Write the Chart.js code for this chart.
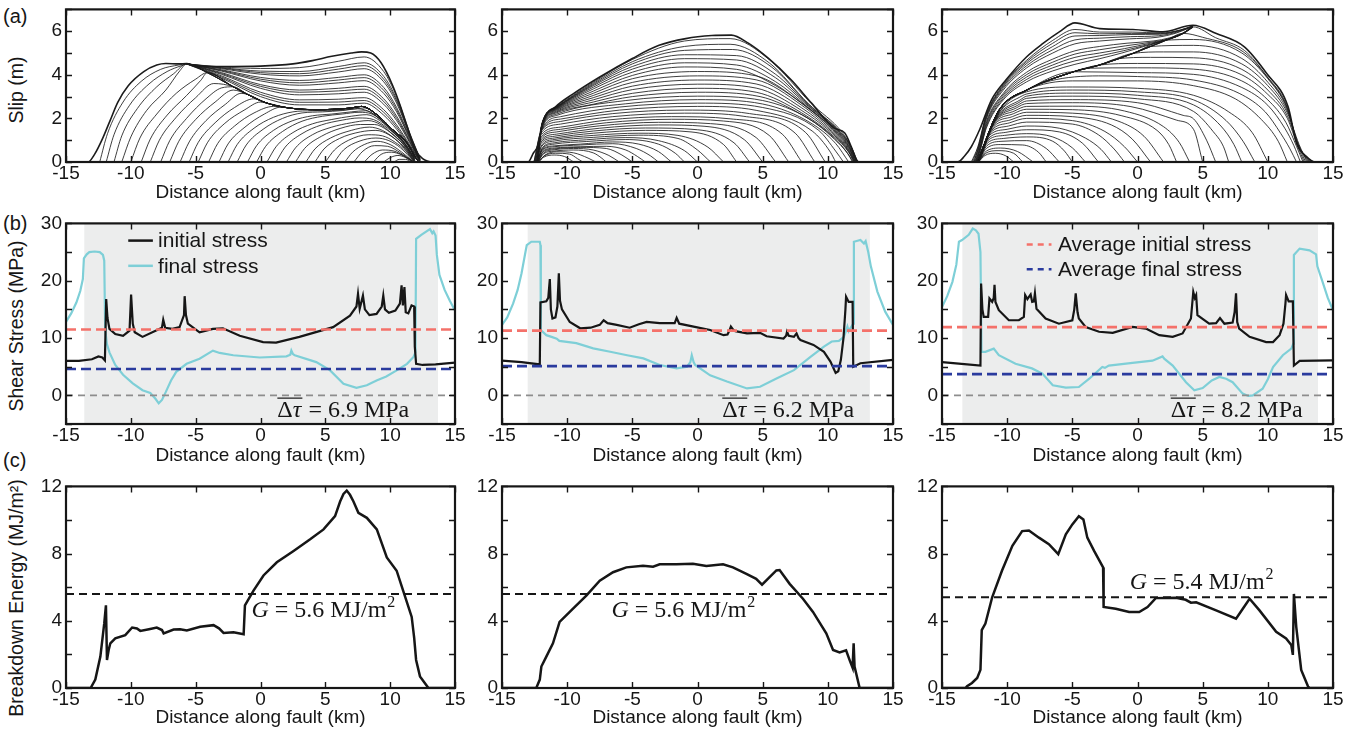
<!DOCTYPE html>
<html>
<head>
<meta charset="utf-8">
<script src="https://cdn.jsdelivr.net/npm/chart.js@4.4.1/dist/chart.umd.min.js"></script>
<style>
  body { margin: 0; background: #fff; width: 1359px; height: 734px; overflow: hidden; position: relative; font-family: "Liberation Sans", Arial, sans-serif; color: #161616; }
  canvas { position: absolute; }
  .tag { position: absolute; left: 3px; font-size: 20px; line-height: 1; }
  .ytitle { position: absolute; left: 17px; font-size: 19.5px; line-height: 1; white-space: nowrap;
            transform: translate(-50%, -50%) rotate(-90deg); }
</style>
</head>
<body>
<div class="tag" style="top:6px">(a)</div>
<div class="tag" style="top:213px">(b)</div>
<div class="tag" style="top:450px">(c)</div>
<div class="ytitle" style="top:90px">Slip (m)</div>
<div class="ytitle" style="top:326px">Shear Stress (MPa)</div>
<div class="ytitle" style="top:598px">Breakdown Energy (MJ/m²)</div>
<script>
// ---------- slip contours, left model ----------
const slipEarlyL = [
  [[10.3,0],[10.7,0.12],[11.2,0.12],[11.6,0]],
  [[9.5,0],[10,0.2],[10.6,0.3],[11.2,0.2],[11.7,0]],
  [[8.7,0],[9.3,0.35],[10.1,0.45],[10.9,0.32],[11.8,0]],
  [[8,0],[8.6,0.35],[9.4,0.55],[10.3,0.5],[11,0.3],[11.8,0]],
  [[7.2,0],[7.9,0.5],[8.8,0.75],[9.8,0.72],[10.8,0.42],[11.8,0]],
  [[6.5,0],[7.1,0.45],[8,0.8],[9,0.95],[10,0.8],[10.9,0.45],[11.8,0]],
  [[5.7,0],[6.4,0.55],[7.6,0.95],[8.9,1.1],[9.9,0.98],[10.8,0.65],[11.85,0]],
  [[5,0],[5.7,0.55],[6.8,1.0],[8.3,1.25],[9.4,1.2],[10.4,0.9],[11.2,0.5],[11.85,0]],
  [[4.2,0],[4.9,0.6],[6.1,1.08],[7.7,1.38],[8.9,1.45],[9.9,1.25],[10.8,0.82],[11.9,0]],
  [[3.5,0],[4.2,0.6],[5.4,1.1],[7,1.45],[8.4,1.6],[9.4,1.45],[10.4,1.05],[11.2,0.6],[11.9,0]],
  [[2.7,0],[3.4,0.62],[4.7,1.18],[6.2,1.55],[7.7,1.72],[8.8,1.72],[9.8,1.45],[10.8,0.95],[11.9,0.02]],
  [[2,0],[2.7,0.65],[4,1.25],[5.5,1.6],[7,1.8],[8.3,1.9],[9.3,1.7],[10.3,1.2],[11.2,0.7],[11.9,0.05]],
  [[1.2,0],[1.9,0.68],[3.2,1.3],[4.7,1.7],[6.3,1.92],[7.6,2.02],[8.7,1.95],[9.8,1.55],[10.8,1.02],[11.9,0.08]],
  [[0.5,0],[1.2,0.7],[2.5,1.35],[4,1.75],[5.5,1.95],[7,2.1],[8.2,2.17],[9.2,1.9],[10.3,1.33],[11.2,0.78],[11.9,0.1]],
  [[-0.3,0],[0.4,0.72],[1.7,1.4],[3.2,1.87],[4.8,2.1],[6.3,2.2],[7.6,2.28],[8.6,2.2],[9.7,1.72],[10.8,1.08],[11.9,0.12]],
  [[-1,0],[-0.3,0.75],[1,1.45],[2.5,1.9],[4,2.12],[5.5,2.2],[7,2.3],[8.1,2.35],[9.1,2.02],[10.2,1.4],[11.2,0.82],[11.9,0.15]],
  [[-1.8,0],[-1.1,0.78],[0.2,1.5],[1.7,2.0],[3.2,2.25],[4.8,2.3],[6.3,2.36],[7.5,2.44],[8.5,2.28],[9.6,1.78],[10.8,1.1],[11.9,0.18]],
  [[-2.5,0],[-1.8,0.8],[-0.5,1.55],[1,2.05],[2.5,2.3],[4,2.35],[5.5,2.36],[7,2.42],[8,2.48],[9.05,2.12],[10.2,1.45],[11.25,0.85],[11.9,0.2]]
];
// strip where slip locked in; later contours run into it
const healL = [[-5.7,4.5],[-4.1,4.1],[-2.1,3.45],[-1,3.1],[0.5,2.7],[2.3,2.47],[4.3,2.4],[6.9,2.47],[7.8,2.55],[9,2.16],[10.2,1.48],[11.3,0.87],[11.9,0.26],[12.2,0]];
const slipJoinL = [
  [[-3.2,0],[-2.5,0.83],[-1.2,1.6],[0.3,2.2],[1.6,2.52],[2.3,2.47]],
  [[-4,0],[-3.3,0.85],[-2,1.65],[-0.5,2.25],[1,2.55],[2.3,2.47]],
  [[-4.8,0],[-4.1,0.88],[-2.8,1.75],[-1.2,2.4],[0,2.75],[0.5,2.7]],
  [[-5.5,0],[-4.8,0.9],[-3.5,1.8],[-2,2.5],[-0.5,2.9],[0.5,2.7]],
  [[-6.2,0],[-5.5,0.92],[-4.2,1.9],[-2.7,2.65],[-1.5,3.15],[-1,3.1]],
  [[-7,0],[-6.3,0.95],[-5,1.95],[-3.5,2.75],[-2.1,3.3],[-1,3.1]],
  [[-7.7,0],[-7,0.98],[-5.7,2.0],[-4.2,2.9],[-3,3.4],[-2.1,3.45]],
  [[-8.5,0],[-7.8,1.0],[-6.5,2.05],[-5,2.95],[-3.6,3.6],[-2.1,3.45]],
  [[-9.2,0],[-8.5,1.05],[-7.2,2.15],[-5.7,3.05],[-4.6,3.75],[-4.1,4.1]],
  [[-10,0],[-9.3,1.1],[-8,2.2],[-6.5,3.15],[-5,3.8],[-4.1,4.1]],
  [[-10.7,0],[-10,1.15],[-8.8,2.35],[-7.3,3.3],[-6.2,4.2],[-5.7,4.5]],
  [[-11.3,0],[-10.7,1.2],[-9.5,2.45],[-8,3.45],[-6.7,4.05],[-5.7,4.5]],
  [[-11.9,0],[-11.3,1.25],[-10.1,2.6],[-8.6,3.58],[-7.2,4.15],[-6.1,4.42],[-5.7,4.5]],
  [[-12.4,0],[-11.8,1.3],[-10.6,2.75],[-9.2,3.7],[-7.7,4.25],[-6.3,4.45],[-5.7,4.5]]
];
const lateXL = [-5.7, -3, 0, 3, 6, 8, 9.5, 10.5, 11.5, 12.3];
const slipLateL = [
  [4.5, 3.85, 3.0, 2.62, 2.62, 2.7, 2.15, 1.5, 0.7, 0],
  [4.5, 3.9, 3.1, 2.74, 2.75, 2.82, 2.28, 1.6, 0.75, 0.02],
  [4.5, 3.95, 3.2, 2.85, 2.88, 2.95, 2.4, 1.7, 0.8, 0.05],
  [4.5, 4.02, 3.38, 3.08, 3.13, 3.2, 2.65, 1.9, 0.9, 0.05],
  [4.5, 4.06, 3.47, 3.2, 3.26, 3.34, 2.78, 2.0, 0.95, 0.06],
  [4.5, 4.1, 3.55, 3.3, 3.38, 3.47, 2.9, 2.1, 1.0, 0.08],
  [4.5, 4.17, 3.72, 3.52, 3.63, 3.73, 3.15, 2.3, 1.08, 0.1],
  [4.5, 4.2, 3.8, 3.63, 3.76, 3.87, 3.29, 2.4, 1.12, 0.1],
  [4.5, 4.23, 3.88, 3.74, 3.88, 4.0, 3.42, 2.5, 1.17, 0.1],
  [4.5, 4.28, 4.03, 3.95, 4.13, 4.28, 3.68, 2.7, 1.24, 0.12],
  [4.5, 4.31, 4.1, 4.05, 4.26, 4.42, 3.8, 2.8, 1.27, 0.14],
  [4.5, 4.33, 4.17, 4.15, 4.38, 4.55, 3.93, 2.88, 1.3, 0.15],
  [4.5, 4.36, 4.29, 4.33, 4.62, 4.82, 4.15, 3.0, 1.35, 0.17]
];
const slipFinalL = [[-15,0],[-13.3,0],[-12.8,0.35],[-12.2,1.05],[-11.6,1.9],[-11,2.75],[-10.2,3.5],[-9,4.15],[-8,4.45],[-7.3,4.52],[-6.3,4.5],[-5.7,4.52],[-5,4.4],[-3,4.38],[0,4.4],[2.5,4.5],[4,4.65],[5.5,4.85],[7,5.0],[7.8,5.05],[8.5,5.0],[9.3,4.55],[10.2,3.5],[10.8,2.55],[11.3,1.65],[11.9,0.6],[12.5,0.15],[13.3,0],[15,0]];

// ---------- slip contours, middle model ----------
const slipMid = [
  [[-12.2,0],[-11.8,0.22],[-11,0.32],[-10.2,0.25],[-9.5,0]],
  [[-12.2,0],[-11.75,0.28],[-10.9,0.4],[-9.8,0.36],[-9.2,0.15],[-8.8,0]],
  [[-12.2,0],[-11.7,0.32],[-10.8,0.47],[-9.5,0.42],[-8.4,0.18],[-7.8,0]],
  [[-12.25,0],[-11.8,0.38],[-11,0.5],[-9.5,0.55],[-8,0.42],[-7.4,0.2],[-7,0]],
  [[-12.25,0],[-11.8,0.42],[-11,0.56],[-9.5,0.62],[-8,0.55],[-6.8,0.3],[-6,0]],
  [[-12.25,0],[-11.85,0.46],[-11,0.6],[-9,0.67],[-7,0.62],[-5.8,0.32],[-5,0]],
  [[-12.25,0],[-11.85,0.5],[-11,0.64],[-9,0.7],[-7,0.72],[-5.5,0.55],[-4.6,0.25],[-4,0]],
  [[-12.3,0],[-11.9,0.54],[-11,0.7],[-9,0.78],[-6.5,0.84],[-4.7,0.62],[-3.6,0.28],[-3,0]],
  [[-12.3,0],[-11.9,0.58],[-11,0.74],[-9,0.82],[-6.5,0.92],[-4.5,0.82],[-3,0.48],[-2,0]],
  [[-12.3,0],[-11.9,0.62],[-11,0.82],[-8.5,0.94],[-5.5,1.03],[-3,0.82],[-1.7,0.4],[-1,0]],
  [[-12.3,0],[-11.9,0.66],[-11,0.88],[-8.5,1.02],[-5.5,1.12],[-3,0.98],[-1,0.52],[0,0]],
  [[-12.35,0],[-11.95,0.72],[-11,0.96],[-8,1.13],[-4.5,1.23],[-1.5,1.08],[0,0.55],[1,0]],
  [[-12.35,0],[-11.95,0.78],[-11,1.03],[-8,1.22],[-4.5,1.32],[-1.5,1.22],[0.8,0.68],[2,0]],
  [[-12.4,0],[-12,0.85],[-11,1.1],[-8,1.32],[-4,1.45],[-0.5,1.38],[2,0.8],[3,0]],
  [[-12.4,0],[-12,0.92],[-11,1.18],[-8,1.42],[-4,1.56],[0,1.48],[2.8,0.88],[4,0]],
  [[-12.45,0],[-12,1.0],[-10.8,1.28],[-7.5,1.55],[-3,1.7],[0.5,1.64],[3.6,1.02],[5,0]],
  [[-12.45,0],[-12,1.08],[-10.8,1.38],[-7.5,1.66],[-3,1.82],[1,1.76],[4.5,1.12],[6,0]],
  [[-12.5,0],[-12,1.16],[-10.5,1.5],[-7,1.8],[-2,1.96],[2,1.88],[5.5,1.22],[7,0]],
  [[-12.5,0],[-12,1.25],[-10.5,1.6],[-7,1.92],[-2,2.08],[2.5,1.98],[6.5,1.28],[8,0]],
  [[-12.55,0],[-12,1.34],[-10.5,1.74],[-6.5,2.08],[-1,2.24],[3.5,2.1],[7.5,1.32],[9,0]],
  [[-12.55,0],[-12,1.42],[-10.5,1.86],[-6.5,2.22],[-1,2.38],[4,2.22],[8.3,1.35],[9.8,0]],
  [[-12.3,0],[-11.95,1.47],[-10.5,1.97],[-6,2.38],[0,2.55],[4.5,2.37],[8.8,1.42],[10.2,0.45],[10.6,0]],
  [[-12.3,0],[-11.95,1.5],[-10.5,2.08],[-6,2.52],[0,2.7],[5,2.5],[9.3,1.45],[10.6,0.5],[11.2,0]],
  [[-12.3,0],[-11.95,1.52],[-10.8,2.14],[-5.5,2.67],[0,2.86],[5,2.66],[8.8,1.75],[10.6,0.85],[11.6,0]],
  [[-12.3,0],[-11.95,1.55],[-10.8,2.2],[-5.5,2.82],[0,3.02],[5,2.82],[8.5,2.0],[10.5,1.05],[11.5,0.4],[11.9,0]],
  [[-12.3,0],[-11.95,1.58],[-10.8,2.26],[-8,2.65],[-5,3.0],[0,3.2],[4.8,3.0],[8.2,2.1],[10.5,1.1],[11.5,0.42],[11.95,0]],
  [[-12.3,0],[-11.95,1.6],[-10.8,2.3],[-8,2.75],[-5,3.15],[0,3.38],[4.5,3.2],[8,2.25],[10.5,1.15],[11.6,0.45],[12,0]],
  [[-12.3,0],[-11.95,1.63],[-10.8,2.34],[-8,2.85],[-5,3.32],[0,3.57],[4.5,3.39],[8,2.36],[10.55,1.19],[11.6,0.48],[12.02,0]],
  [[-12.3,0],[-11.95,1.65],[-10.8,2.38],[-8,2.95],[-5,3.48],[0,3.76],[4.5,3.58],[8,2.48],[10.6,1.22],[11.6,0.52],[12.05,0]],
  [[-12.3,0],[-11.94,1.68],[-10.8,2.41],[-8,3.05],[-5,3.65],[0,3.95],[4.5,3.77],[8,2.6],[10.65,1.25],[11.62,0.55],[12.08,0]],
  [[-12.3,0],[-11.93,1.7],[-10.8,2.44],[-8,3.15],[-5,3.82],[0,4.15],[4.5,3.95],[8,2.7],[10.7,1.28],[11.65,0.58],[12.1,0]],
  [[-12.3,0],[-11.92,1.72],[-10.8,2.46],[-8,3.25],[-5,3.97],[-1,4.36],[3,4.25],[6,3.5],[8.3,2.55],[10.75,1.3],[11.68,0.6],[12.12,0]],
  [[-12.3,0],[-11.92,1.74],[-10.8,2.48],[-8,3.35],[-5,4.12],[-1,4.55],[3,4.45],[6,3.68],[8.5,2.5],[10.8,1.32],[11.7,0.62],[12.15,0]],
  [[-12.3,0],[-11.91,1.76],[-10.8,2.5],[-8,3.43],[-5,4.26],[-1,4.74],[3,4.68],[6,3.86],[8.5,2.56],[10.85,1.34],[11.72,0.64],[12.18,0]],
  [[-12.3,0],[-11.91,1.77],[-10.8,2.51],[-8,3.5],[-5,4.38],[-1,4.92],[3,4.88],[6,4.02],[8.5,2.6],[10.9,1.35],[11.75,0.66],[12.2,0]],
  [[-12.3,0],[-11.9,1.78],[-10.8,2.52],[-8,3.55],[-5,4.5],[-1,5.12],[2.7,5.16],[5.7,4.35],[8.5,2.65],[10.95,1.36],[11.78,0.67],[12.22,0]],
  [[-12.3,0],[-11.9,1.79],[-10.8,2.53],[-8,3.6],[-5,4.6],[-1,5.3],[2.5,5.4],[5.5,4.55],[8.5,2.68],[11,1.36],[11.8,0.68],[12.25,0]],
  [[-12.3,0],[-11.9,1.8],[-10.8,2.55],[-8,3.65],[-5,4.7],[-1,5.55],[2.5,5.66],[5.5,4.7],[8.7,2.7],[11.1,1.36],[11.8,0.69],[12.3,0]]
];
const slipFinalM = [[-15,0],[-13,0],[-12.6,0.4],[-12.25,0.75],[-11.9,1.8],[-10.85,2.55],[-9.6,3.1],[-7.5,3.9],[-5,4.75],[-2.95,5.35],[-0.9,5.66],[1.1,5.8],[2.6,5.82],[3.9,5.45],[5.45,4.75],[7.2,3.76],[8.75,2.7],[10.5,1.55],[11.3,1.33],[11.8,0.7],[12.2,0.1],[12.4,0],[15,0]];

// ---------- slip contours, right model ----------
const slipEarlyR = [
  [[-12.2,0],[-11.7,0.3],[-10.9,0.4],[-10.1,0.28],[-9.5,0]],
  [[-12.2,0],[-11.65,0.4],[-10.7,0.52],[-9.5,0.4],[-8.8,0]],
  [[-12.2,0],[-11.6,0.5],[-10.5,0.64],[-9.2,0.48],[-8,0]],
  [[-12.2,0],[-11.6,0.62],[-10.5,0.8],[-8.8,0.78],[-7.6,0.45],[-7,0]],
  [[-12.2,0],[-11.55,0.75],[-10.4,0.95],[-8.5,0.98],[-7,0.62],[-6,0]],
  [[-12.2,0],[-11.5,0.88],[-10.3,1.08],[-8.5,1.15],[-6.5,0.95],[-5.6,0.5],[-5,0]],
  [[-12.2,0],[-11.45,1.0],[-10.2,1.22],[-8.5,1.3],[-6.5,1.15],[-5,0.65],[-4,0]],
  [[-12.2,0],[-11.4,1.1],[-10.1,1.36],[-8.5,1.48],[-6,1.38],[-4.2,0.85],[-3,0]],
  [[-12.2,0],[-11.35,1.22],[-10,1.5],[-8.5,1.65],[-6,1.55],[-4,1.1],[-2.8,0.58],[-2,0]],
  [[-12.2,0],[-11.3,1.32],[-9.9,1.65],[-8.5,1.83],[-5,1.74],[-3,1.25],[-1.8,0.6],[-1,0]],
  [[-12.2,0],[-11.25,1.4],[-9.8,1.8],[-8.5,2.0],[-5,1.9],[-2.5,1.4],[-1,0.7],[0,0]],
  [[-12.2,0],[-11.2,1.5],[-9.7,1.94],[-8.5,2.14],[-5,2.08],[-2,1.7],[-0.4,1.05],[1,0]],
  [[-12.2,0],[-11.15,1.6],[-9.6,2.08],[-8.5,2.28],[-5,2.24],[-1.5,1.88],[0.5,1.18],[2,0]],
  [[-12.2,0],[-11.1,1.68],[-9.5,2.22],[-8.5,2.42],[-5,2.4],[-1.2,2.12],[1.5,1.45],[2.4,0.8],[3,0]],
  [[-12.2,0],[-11.05,1.76],[-9.4,2.35],[-8.5,2.55],[-5,2.56],[-1,2.34],[2,1.62],[3.2,0.9],[4,0]],
  [[-12.2,0],[-11,1.82],[-9.3,2.48],[-8.5,2.68],[-5,2.72],[-0.5,2.54],[3,1.92],[4.3,1.5],[5,0]],
  [[-12.2,0],[-10.95,1.88],[-9.2,2.6],[-8.5,2.8],[-5,2.86],[0,2.72],[3.5,2.14],[4.3,1.98],[5.3,1.0],[6,0]],
  [[-12.2,0],[-10.9,1.95],[-9.1,2.73],[-8.5,2.92],[-5,3.02],[0,2.9],[4.3,2.32],[5.8,1.4],[6.6,0.7],[7,0]],
  [[-12.2,0],[-10.85,2.02],[-9,2.85],[-8.5,3.02],[-5,3.16],[0,3.06],[4.3,2.62],[6.4,1.65],[7.4,0.8],[8,0]],
  [[-12.2,0],[-10.8,2.1],[-8.8,3.05],[-8.5,3.12],[-5,3.3],[0,3.22],[4.3,2.85],[6.8,1.9],[8.1,0.95],[9,0]],
  [[-12.2,0],[-10.75,2.16],[-8.5,3.22],[-5,3.44],[0,3.38],[4.3,3.06],[7,2.3],[8.8,1.35],[10,0]]
];
const healR = [[-12.3,0],[-12.1,0.3],[-10.6,2.4],[-8.5,3.3],[-4.9,4.14],[-2.9,4.45],[-0.35,4.98],[2.2,5.59],[3.5,5.9],[4.25,6.2]];
const slipJoinR = [
  [[-8.5,3.3],[-5,3.72],[0,3.72],[4.3,3.5],[7.5,2.9],[9.5,1.95],[10.8,0.95],[11.5,0]],
  [[-6.7,3.72],[-3,3.95],[0,3.92],[4.3,3.76],[7.8,3.15],[9.8,2.3],[11,1.3],[11.7,0.6],[12.2,0]],
  [[-4.9,4.14],[0,4.1],[4.3,4.02],[8,3.42],[10,2.6],[11.3,1.55],[12,0.75],[12.5,0]],
  [[-3.9,4.3],[0,4.32],[4.3,4.26],[8,3.72],[10,2.85],[11.4,1.8],[12.2,0.72],[12.7,0]],
  [[-2.9,4.45],[0,4.52],[4.3,4.5],[8,4.0],[10,3.1],[11.5,2.0],[12.3,0.7],[12.8,0]],
  [[-1.6,4.73],[1,4.8],[4.3,4.78],[8,4.25],[10,3.3],[11.5,2.12],[12.35,0.75],[12.9,0]],
  [[-0.35,4.98],[2,5.05],[4.3,5.05],[8,4.5],[10,3.5],[11.5,2.25],[12.4,0.8],[13,0]],
  [[1,5.3],[4.3,5.35],[8,4.75],[10,3.66],[11.5,2.34],[12.35,0.8],[13.1,0]],
  [[2.2,5.59],[4.3,5.62],[8,5.0],[10,3.82],[11.5,2.42],[12.3,0.8],[13.2,0]],
  [[3.5,5.9],[5,5.72],[8.1,5.06],[9.95,3.9],[11.5,2.46],[12.3,0.82],[13.3,0]],
  [[4.25,6.2],[6,5.7],[8.2,5.12],[9.9,3.95],[11.5,2.5],[12.25,0.8],[12.95,0.24],[13.5,0]]
];
const slipUpperR = [
  [[-12.35,0],[-12.1,0.45],[-11.6,1.55],[-10.3,2.85],[-8.5,3.68],[-6.5,4.18],[-4.8,4.48],[-2.9,4.74],[-1.2,5.0],[0.5,5.3],[2.2,5.59],[3.5,5.9],[4.25,6.2]],
  [[-12.38,0],[-12.11,0.48],[-11.6,1.62],[-10.3,2.92],[-8.5,3.79],[-6.5,4.32],[-4.8,4.64],[-2.9,4.87],[-1.1,5.1],[0.8,5.38],[2.2,5.6],[3.5,5.9],[4.25,6.2]],
  [[-12.4,0],[-12.12,0.5],[-11.6,1.7],[-10.3,3.0],[-8.5,3.9],[-6.5,4.45],[-4.8,4.8],[-2.9,5.0],[-1,5.2],[1,5.45],[2.2,5.6],[3.5,5.9],[4.25,6.2]],
  [[-12.43,0],[-12.14,0.53],[-11.6,1.78],[-10.3,3.08],[-8.5,4.01],[-6.5,4.58],[-4.8,4.95],[-2.9,5.15],[-0.9,5.33],[1.1,5.5],[2.4,5.65],[3.5,5.91],[4.25,6.2]],
  [[-12.45,0],[-12.15,0.55],[-11.6,1.85],[-10.3,3.15],[-8.5,4.12],[-6.5,4.72],[-4.8,5.1],[-2.9,5.3],[-0.8,5.45],[1.2,5.55],[2.5,5.7],[3.5,5.92],[4.25,6.2]],
  [[-12.5,0],[-12.18,0.6],[-11.6,1.98],[-10.3,3.3],[-8.5,4.32],[-6.5,5.0],[-4.8,5.42],[-2.9,5.55],[-0.6,5.65],[1.5,5.72],[3,5.92],[4.25,6.22]],
  [[-12.55,0],[-12.2,0.62],[-11.6,2.03],[-10.3,3.38],[-8.5,4.42],[-6.5,5.15],[-4.8,5.6],[-2.9,5.68],[-0.55,5.75],[1.6,5.79],[3.1,5.97],[4.25,6.22]],
  [[-12.6,0],[-12.2,0.65],[-11.6,2.08],[-10.3,3.45],[-8.5,4.52],[-6.5,5.3],[-4.8,5.78],[-2.9,5.8],[-0.5,5.85],[1.7,5.86],[3.2,6.02],[4.25,6.23]],
  [[-12.68,0],[-12.23,0.68],[-11.6,2.13],[-10.3,3.5],[-8.5,4.6],[-6.5,5.45],[-4.8,5.93],[-2.9,5.88],[-0.45,5.9],[1.75,5.89],[3.25,6.04],[4.25,6.24]],
  [[-12.75,0],[-12.25,0.7],[-11.6,2.18],[-10.3,3.55],[-8.5,4.67],[-6.5,5.58],[-4.8,6.08],[-2.9,5.96],[-0.4,5.96],[1.8,5.92],[3.3,6.06],[4.25,6.25]]
];
const slipFinalR = [[-15,0],[-13.8,0],[-13.3,0.25],[-12.75,0.7],[-12.1,1.5],[-11.2,2.85],[-10.1,3.76],[-8.5,4.83],[-7.25,5.44],[-6,5.97],[-4.8,6.38],[-2.9,6.12],[-0.35,6.08],[1.95,5.97],[4.25,6.27],[6.05,5.89],[8.2,5.28],[9.9,4.07],[11.55,2.54],[12.2,0.87],[12.95,0.26],[13.6,0],[15,0]];

// ---------- shear stress along the fault ----------
const initStressL = [[-15,6.0],[-14,6.0],[-13,6.3],[-12.5,6.8],[-12.2,6.6],[-12.0,6.1],[-11.9,16.8],[-11.8,13.5],[-11.65,11.6],[-11.2,10.7],[-10.6,10.4],[-10.1,11.3],[-9.98,17.6],[-9.85,12.5],[-9.7,11.0],[-9.1,10.2],[-8.05,11.3],[-7.6,11.8],[-7.5,13.2],[-7.35,11.8],[-6.8,11.6],[-6.24,11.9],[-5.9,14.0],[-5.85,17.3],[-5.75,14.0],[-5.6,12.5],[-4.7,11.0],[-3.67,11.6],[-2.9,11.7],[-1.6,10.4],[0.2,9.3],[1.2,9.2],[3.0,10.2],[5.6,11.9],[6.9,13.9],[7.4,15.5],[7.52,17.7],[7.65,15.1],[7.9,17.4],[8.05,15.0],[8.4,14.0],[8.95,14.2],[9.35,15.5],[9.47,17.4],[9.6,15.0],[9.9,14.4],[10.4,14.8],[10.75,16.0],[10.88,19.2],[10.98,15.7],[11.1,18.9],[11.2,14.5],[11.4,14.3],[11.65,15.7],[11.85,15.5],[11.9,8.5],[12.0,5.5],[12.5,5.3],[13.5,5.4],[15,5.7]];
const finalStressL = [[-15,12.8],[-14.6,14.3],[-14.2,16.2],[-13.9,18.2],[-13.7,20.3],[-13.62,23.9],[-13.4,24.6],[-13.2,25.0],[-12.8,25.1],[-12.4,25.0],[-12.15,24.5],[-12.05,23.5],[-11.98,11.6],[-11.85,9.0],[-11.65,7.5],[-11.2,5.3],[-10.6,3.6],[-9.85,2.1],[-9.1,0.9],[-8.5,0.4],[-8.1,-0.6],[-7.85,-1.4],[-7.6,-0.8],[-7.3,0.6],[-6.9,2.6],[-6.5,4.1],[-5.7,5.5],[-4.7,6.4],[-3.67,7.8],[-3.15,7.4],[-2.1,7.0],[-0.06,6.6],[2.0,6.8],[2.3,7.1],[2.38,7.8],[2.5,7.2],[2.64,7.0],[4.3,5.8],[5.35,4.4],[6.4,2.0],[7.4,1.3],[8.2,1.75],[8.95,2.6],[9.7,3.3],[10.5,4.35],[11.3,5.5],[11.8,6.7],[11.95,7.5],[12.0,27.3],[12.4,28.0],[13.07,29.0],[13.25,28.3],[13.35,28.6],[13.5,27.9],[13.6,24.5],[13.8,21.0],[14.2,18.4],[14.6,16.5],[15,14.8]];
const initStressM = [[-15,6.05],[-13.5,5.8],[-12.1,5.4],[-12.05,16.2],[-11.6,16.4],[-11.45,17.0],[-11.33,20.3],[-11.25,15.0],[-11.13,13.4],[-10.9,13.6],[-10.75,15.5],[-10.64,21.3],[-10.55,16.5],[-10.4,15.0],[-9.8,12.8],[-9.0,11.7],[-8.2,11.8],[-7.5,12.3],[-7.2,13.1],[-6.9,12.6],[-6.2,12.3],[-5.2,11.8],[-4.5,12.4],[-3.9,12.8],[-2.9,12.6],[-1.75,12.6],[-1.6,13.5],[-1.4,12.5],[-0.3,12.0],[0.97,11.4],[2.0,10.5],[2.3,10.6],[2.45,11.3],[2.56,12.0],[2.75,11.4],[2.9,11.2],[3.8,10.8],[4.8,10.9],[5.3,10.3],[6.6,9.9],[6.8,10.4],[6.87,11.1],[7.0,10.4],[7.4,10.2],[7.6,10.8],[7.75,10.0],[7.9,9.65],[8.9,8.8],[9.7,7.6],[10.2,5.9],[10.6,3.9],[10.8,4.2],[11.0,6.2],[11.2,10.0],[11.35,15.0],[11.4,17.2],[11.6,16.3],[11.9,16.3],[11.95,5.0],[12.5,5.6],[15,6.2]];
const finalStressM = [[-15,12.3],[-14.6,13.6],[-14.15,16.0],[-13.8,18.4],[-13.5,21.3],[-13.2,25.0],[-13.1,26.2],[-12.75,26.8],[-12.1,26.8],[-12.05,26.2],[-12.02,11.4],[-11.6,10.5],[-11.2,10.2],[-10.8,9.9],[-10.6,9.5],[-9.3,9.1],[-8.0,8.2],[-6.7,7.6],[-5.4,7.0],[-4.15,6.45],[-2.9,5.3],[-1.6,4.7],[-0.8,5.0],[-0.55,5.8],[-0.44,7.0],[-0.3,5.8],[-0.18,5.3],[0.97,3.5],[2.26,2.4],[3.8,1.2],[4.8,1.5],[6.1,3.0],[7.4,4.4],[8.67,6.7],[9.7,8.5],[10.3,9.4],[10.85,9.5],[11.23,10.2],[11.4,11.3],[11.5,12.0],[11.6,11.2],[11.75,11.8],[11.95,12.5],[12.0,26.8],[12.5,27.1],[12.77,26.5],[12.9,26.9],[13.1,25.0],[13.3,22.5],[13.8,18.1],[14.4,14.6],[15,12.3]];
const initStressR = [[-15,5.8],[-13.5,5.5],[-12.05,5.2],[-12.0,19.5],[-11.9,15.0],[-11.8,13.7],[-11.46,13.7],[-11.36,16.9],[-11.15,16.3],[-11.03,17.0],[-10.97,19.3],[-10.9,16.3],[-10.64,14.85],[-9.87,13.1],[-9.1,13.1],[-8.72,13.7],[-8.62,17.5],[-8.45,16.8],[-8.33,17.2],[-8.2,17.6],[-8.08,16.3],[-7.95,16.4],[-7.87,17.8],[-7.75,15.1],[-7.05,13.4],[-6.03,12.5],[-5.0,13.1],[-4.85,15.0],[-4.74,17.8],[-4.6,14.5],[-4.5,13.4],[-3.97,11.9],[-2.95,11.1],[-1.9,10.9],[-0.38,11.95],[0.64,11.65],[1.67,10.5],[2.7,10.2],[3.46,10.8],[4.1,13.4],[4.28,18.05],[4.4,17.0],[4.5,17.5],[4.6,14.0],[5.5,12.5],[6.03,12.6],[6.33,13.5],[6.67,12.5],[7.3,12.7],[7.45,14.5],[7.56,17.8],[7.65,12.8],[7.8,11.65],[8.6,10.2],[9.87,9.3],[10.4,9.3],[10.9,10.5],[11.2,12.5],[11.35,16.0],[11.4,17.5],[11.6,16.4],[11.92,16.4],[12.0,5.2],[12.44,6.0],[15,6.1]];
const finalStressR = [[-15,15.4],[-14.6,17.3],[-14.2,19.8],[-13.9,22.8],[-13.7,26.8],[-13.46,27.1],[-12.95,28.0],[-12.64,29.1],[-12.4,28.8],[-12.2,28.2],[-12.05,25.0],[-11.97,7.6],[-11.67,7.6],[-11.03,8.15],[-10.64,7.0],[-9.36,5.5],[-8.1,4.7],[-7.3,3.8],[-6.5,1.75],[-5.5,1.34],[-4.5,1.45],[-3.7,2.9],[-2.7,4.95],[-2.5,4.8],[-2.2,5.2],[-0.38,5.65],[1.15,6.05],[1.92,6.8],[2.05,6.4],[2.7,5.2],[3.72,2.3],[4.36,0.87],[5.0,1.28],[5.7,2.6],[6.28,3.2],[6.8,2.9],[7.3,2.3],[8.07,0.3],[8.5,-0.1],[8.85,0.0],[9.6,1.16],[10.0,2.8],[10.4,4.95],[11.15,7.0],[11.8,8.15],[11.95,9.0],[12.0,24.5],[12.44,25.6],[13.2,25.3],[13.7,24.6],[13.8,22.5],[14.2,19.8],[14.6,17.0],[15,14.85]];
const avgInitial = [11.5, 11.3, 11.9];
const avgFinal = [4.6, 5.1, 3.7];
const shadeFrom = [-13.6, -13.05, -13.45];
const shadeTo = [13.7, 13.23, 13.85];

// ---------- breakdown energy ----------
const energyL = [[-15,0],[-13.1,0],[-12.74,0.5],[-12.35,1.87],[-12.05,3.84],[-11.92,4.92],[-11.84,1.67],[-11.7,2.3],[-11.58,2.66],[-11.2,2.95],[-10.43,3.15],[-9.9,3.6],[-9.53,3.54],[-9.27,3.4],[-8.6,3.5],[-8.0,3.6],[-7.6,3.45],[-7.47,3.25],[-6.7,3.48],[-6.2,3.5],[-5.68,3.42],[-4.65,3.64],[-3.62,3.74],[-3.2,3.55],[-2.85,3.28],[-2.08,3.32],[-1.3,3.2],[-1.2,4.92],[-0.54,5.8],[0.23,6.7],[1.26,7.48],[2.55,8.16],[3.83,8.85],[4.86,9.44],[5.75,10.23],[6.14,11.1],[6.4,11.55],[6.65,11.75],[6.9,11.5],[7.17,11.1],[7.55,10.43],[8.2,10.13],[8.97,9.44],[9.74,7.77],[10.5,6.98],[11.0,5.8],[11.66,4.23],[11.85,3.0],[12.0,1.67],[12.3,0.69],[12.95,0],[15,0]];
const energyM = [[-15,0],[-12.37,0],[-12.1,0.5],[-11.98,1.28],[-11.6,1.87],[-11.09,2.66],[-10.58,3.93],[-9.55,4.72],[-8.53,5.5],[-7.5,6.39],[-6.48,6.89],[-5.46,7.18],[-4.18,7.28],[-3.41,7.22],[-2.9,7.36],[-1.62,7.36],[-0.35,7.4],[0.68,7.26],[1.96,7.36],[2.72,7.18],[3.75,6.79],[4.5,6.5],[4.95,6.15],[6.05,7.0],[6.3,7.02],[7.07,6.2],[8.09,5.31],[8.86,4.53],[9.88,3.25],[10.4,2.26],[10.9,2.12],[11.4,2.24],[11.7,1.6],[11.9,1.2],[11.98,2.66],[12.05,1.28],[12.44,0],[15,0]];
const energyR = [[-15,0],[-13.2,0],[-13.08,0.1],[-12.7,0.3],[-12.3,0.6],[-12.05,1.08],[-11.95,3.44],[-11.67,3.84],[-11.15,5.4],[-10.4,6.98],[-9.6,8.46],[-8.85,9.34],[-8.33,9.38],[-7.56,8.95],[-6.8,8.56],[-6.08,7.97],[-5.5,9.15],[-5.0,9.74],[-4.5,10.23],[-4.15,10.03],[-3.85,8.95],[-3.33,8.16],[-2.64,7.18],[-2.6,4.82],[-1.67,4.72],[-0.64,4.52],[0.13,4.52],[0.77,4.82],[1.4,5.35],[2.95,5.37],[3.7,5.25],[4.1,5.08],[4.5,5.1],[6.03,4.62],[7.56,4.13],[8.08,4.72],[8.6,5.31],[9.36,4.62],[10.64,3.34],[11.4,2.95],[11.8,2.56],[11.92,1.97],[12.0,5.6],[12.18,3.64],[12.56,1.08],[13.08,0.1],[13.2,0],[15,0]];
const avgEnergy = [5.6, 5.6, 5.4];

// ---------- helpers ----------
const INK = '#161616';
const CYAN = '#7ecfd7';
const RED = '#f4716a';
const BLUE = '#2a3b9e';
const SANS = '"Liberation Sans", Arial, sans-serif';
const SERIF = '"Liberation Serif", "Times New Roman", serif';

const pts = arr => arr.map(([x, y]) => ({x, y}));
const thenHeal = (rise, heal) => rise.concat(heal.filter(p => p[0] > rise[rise.length - 1][0]));
const healThen = (heal, tail) => heal.filter(p => p[0] < tail[0][0]).concat(tail);
const onGrid = (xs, ys) => xs.map((x, i) => [x, ys[i]]);

function curve(arr, color, width, extra) {
  return Object.assign({
    data: pts(arr), showLine: true, borderColor: color, borderWidth: width,
    pointRadius: 0, fill: false, tension: 0
  }, extra || {});
}
const contour = (arr, w) => curve(arr, '#1c1c1c', w || 0.85, {cubicInterpolationMode: 'monotone'});
const hline = (v, color, width, dash, order) =>
  curve([[-15, v], [15, v]], color, width, {borderDash: dash, order: order});

// inward tick marks and closed box
const frame = {
  id: 'frame',
  afterDatasetsDraw(chart) {
    const {ctx, chartArea: a, scales: {x, y}} = chart;
    ctx.save();
    ctx.strokeStyle = INK;
    ctx.lineWidth = 1.4;
    ctx.beginPath();
    x.ticks.forEach(t => {
      const p = Math.round(x.getPixelForValue(t.value)) + 0.5;
      ctx.moveTo(p, a.bottom); ctx.lineTo(p, a.bottom - 6);
      ctx.moveTo(p, a.top); ctx.lineTo(p, a.top + 6);
    });
    y.ticks.forEach(t => {
      const p = Math.round(y.getPixelForValue(t.value)) + 0.5;
      ctx.moveTo(a.left, p); ctx.lineTo(a.left + 6, p);
      ctx.moveTo(a.right, p); ctx.lineTo(a.right - 6, p);
    });
    ctx.stroke();
    ctx.lineWidth = 2.2;
    ctx.strokeRect(a.left, a.top, a.width, a.height);
    ctx.restore();
  }
};

// in-plot keys and the math labels
const notes = {
  id: 'notes',
  afterDatasetsDraw(chart, args, opts) {
    const {ctx, scales: {x, y}} = chart;
    ctx.save();
    ctx.fillStyle = INK;
    ctx.textBaseline = 'alphabetic';
    if (opts.drop) {
      const d = opts.drop;
      let px = x.getPixelForValue(d.x);
      const py = y.getPixelForValue(d.y);
      const x0 = px;
      ctx.font = '24px ' + SERIF;
      ctx.fillText('\u0394', px, py);
      px += ctx.measureText('\u0394').width;
      ctx.font = 'italic 24px ' + SERIF;
      ctx.fillText('\u03c4', px, py);
      px += ctx.measureText('\u03c4').width + 1;
      ctx.strokeStyle = INK;
      ctx.lineWidth = 1.2;
      ctx.beginPath();
      ctx.moveTo(x0, py - 19); ctx.lineTo(px, py - 19);
      ctx.stroke();
      ctx.font = '24px ' + SERIF;
      ctx.fillText(' = ' + d.value + ' MPa', px, py);
    }
    if (opts.energy) {
      const g = opts.energy;
      let px = x.getPixelForValue(g.x);
      const py = y.getPixelForValue(g.y);
      ctx.font = 'italic 24px ' + SERIF;
      ctx.fillText('G', px, py);
      px += ctx.measureText('G').width;
      ctx.font = '24px ' + SERIF;
      const body = ' = ' + g.value + ' MJ/m';
      ctx.fillText(body, px, py);
      px += ctx.measureText(body).width + 1;
      ctx.font = '16px ' + SERIF;
      ctx.fillText('2', px, py - 10);
    }
    if (opts.keys) {
      const k = opts.keys;
      const x1 = x.getPixelForValue(k.x1), x2 = x.getPixelForValue(k.x2), xt = x.getPixelForValue(k.xt);
      k.rows.forEach(r => {
        const py = y.getPixelForValue(r.y);
        ctx.strokeStyle = r.color;
        ctx.lineWidth = r.width;
        ctx.setLineDash(r.dash || []);
        ctx.beginPath(); ctx.moveTo(x1, py); ctx.lineTo(x2, py); ctx.stroke();
        ctx.setLineDash([]);
        ctx.font = '21px ' + SANS;
        ctx.textBaseline = 'middle';
        ctx.fillText(r.text, xt, py + 1);
      });
    }
    ctx.restore();
  }
};

const COLS = [[66, 455], [502, 893], [942, 1333]];
const ROWS = {a: [8, 162, 3.6], b: [222, 424, 2.6], c: [485, 688, 4.6]};
const PAD_T = 14, PAD_R = 24, AXIS_H = 46;

function panel(col, row, yOpt, datasets, noteOpts) {
  const [l, r] = COLS[col];
  const [t, b, titleGap] = ROWS[row];
  const padL = col === 0 ? 66 : 40;
  const cv = document.createElement('canvas');
  cv.width = padL + (r - l) + PAD_R;
  cv.height = PAD_T + (b - t) + AXIS_H;
  cv.style.left = (l - padL) + 'px';
  cv.style.top = (t - PAD_T) + 'px';
  document.body.appendChild(cv);
  new Chart(cv, {
    type: 'scatter',
    data: {datasets},
    options: {
      responsive: false,
      animation: false,
      events: [],
      layout: {padding: {top: PAD_T, right: PAD_R, left: 0, bottom: 0}},
      plugins: {legend: {display: false}, tooltip: {enabled: false}, notes: noteOpts || {}},
      scales: {
        x: {
          type: 'linear', min: -15, max: 15,
          afterFit: s => { s.height = AXIS_H; },
          grid: {display: false, drawTicks: false},
          border: {display: false},
          ticks: {stepSize: 5, padding: 0, autoSkip: false, maxRotation: 0, color: INK,
                  font: {family: SANS, size: 19}, callback: v => String(v)},
          title: {display: true, text: 'Distance along fault (km)', color: INK,
                  font: {family: SANS, size: 19}, padding: {top: 0, bottom: titleGap}}
        },
        y: {
          type: 'linear', min: yOpt.min, max: yOpt.max,
          afterFit: s => { s.width = padL; },
          grid: {display: false, drawTicks: false},
          border: {display: false},
          ticks: {stepSize: yOpt.step, padding: 4, autoSkip: false, color: INK,
                  font: {family: SANS, size: 19},
                  callback: v => (v % yOpt.label === 0 ? String(v) : '')}
        }
      }
    },
    plugins: [frame, notes]
  });
}

// ---------- row (a): slip ----------
const slipAxis = {min: 0, max: 7, step: 1, label: 2};
panel(0, 'a', slipAxis, [
  ...slipEarlyL.map(c => contour(c)),
  ...slipJoinL.map(c => contour(thenHeal(c, healL))),
  ...slipLateL.map(ys => contour(onGrid(lateXL, ys))),
  contour(slipFinalL, 1.6)
]);
panel(1, 'a', slipAxis, [
  ...slipMid.map(c => contour(c)),
  contour(slipFinalM, 1.6)
]);
panel(2, 'a', slipAxis, [
  ...slipEarlyR.map(c => contour(c)),
  ...slipJoinR.map(c => contour(healThen(healR, c))),
  ...slipUpperR.map(c => contour(c)),
  contour(healR, 1.3),
  contour(slipFinalR, 1.6)
]);

// ---------- row (b): stress ----------
const stressAxis = {min: -5, max: 30, step: 5, label: 10};
const initSets = [initStressL, initStressM, initStressR];
const finalSets = [finalStressL, finalStressM, finalStressR];
[0, 1, 2].forEach(i => {
  const keys = i === 0 ? {x1: -10.2, x2: -8.3, xt: -7.9, rows: [
      {y: 27.0, text: 'initial stress', color: INK, width: 2.5},
      {y: 22.6, text: 'final stress', color: CYAN, width: 2.5}]}
    : i === 2 ? {x1: -8.5, x2: -6.6, xt: -6.1, rows: [
      {y: 26.3, text: 'Average initial stress', color: RED, width: 2.5, dash: [6, 5]},
      {y: 22.0, text: 'Average final stress', color: BLUE, width: 2.5, dash: [6, 5]}]}
    : null;
  const dropX = [1.3, 1.9, 2.55][i];
  panel(i, 'b', stressAxis, [
    curve([[shadeFrom[i], 30], [shadeTo[i], 30]], 'rgba(0,0,0,0)', 0,
          {fill: 'start', backgroundColor: '#eceded', order: 10}),
    hline(0, '#8d8d8d', 1.6, [7, 5], 1),
    curve(finalSets[i], CYAN, 2.2, {order: 4}),
    curve(initSets[i], INK, 2.2, {order: 3}),
    hline(avgInitial[i], RED, 2.6, [10, 5], 1),
    hline(avgFinal[i], BLUE, 2.6, [10, 5], 1)
  ], {
    drop: {x: dropX, y: -3.8, value: (avgInitial[i] - avgFinal[i]).toFixed(1)},
    keys: keys
  });
});

// ---------- row (c): breakdown energy ----------
const energyAxis = {min: 0, max: 12, step: 2, label: 4};
const energySets = [energyL, energyM, energyR];
const gPos = [[-0.7, 4.22], [-6.6, 4.22], [-0.6, 5.9]];
[0, 1, 2].forEach(i => {
  panel(i, 'c', energyAxis, [
    hline(avgEnergy[i], INK, 2, [8, 5], 2),
    curve(energySets[i], INK, 2.5, {order: 1})
  ], {
    energy: {x: gPos[i][0], y: gPos[i][1], value: avgEnergy[i].toFixed(1)}
  });
});
</script>
</body>
</html>
